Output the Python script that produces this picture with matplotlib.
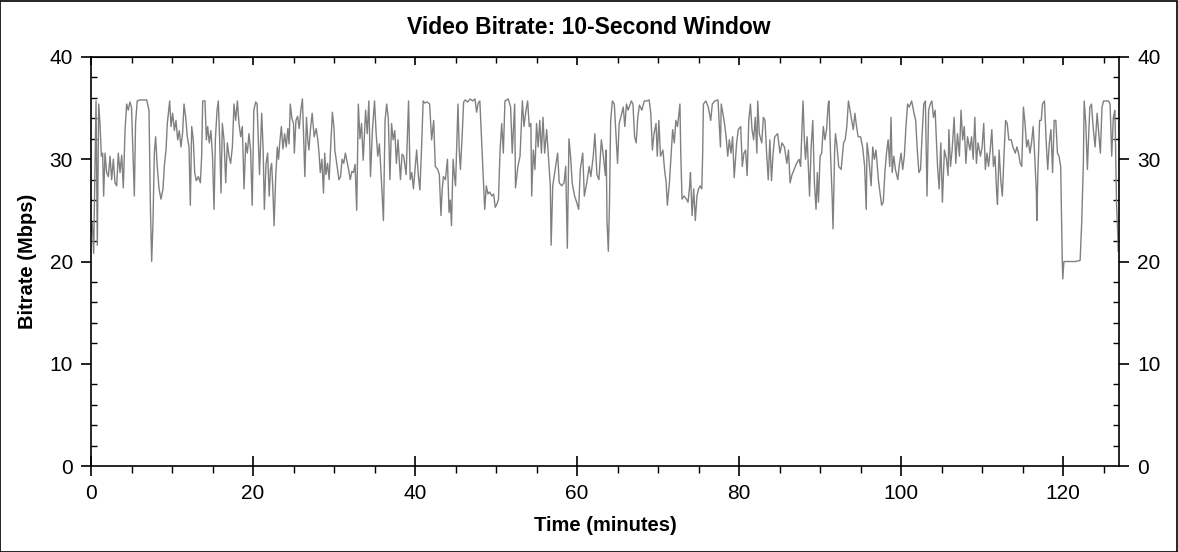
import matplotlib
matplotlib.use("Agg")
import matplotlib.pyplot as plt
from matplotlib.ticker import MultipleLocator
from matplotlib.patches import Rectangle

plt.rcParams['font.family'] = ['Liberation Sans', 'DejaVu Sans']

# time in minutes / bitrate in Mbps
t_a = [0.0, 0.16, 0.33, 0.49, 0.62, 0.78, 0.95, 1.11, 1.28, 1.44,
       1.56, 1.73, 1.93, 2.14, 2.35, 2.55, 2.76, 2.96, 3.17, 3.37,
       3.58, 3.79, 3.99, 4.2, 4.4, 4.6, 4.8, 5.0, 5.2, 5.35,
       5.5, 5.7, 6.05, 6.46, 6.87, 7.16, 7.33, 7.49, 7.65, 7.82,
       7.98, 8.15, 8.4, 8.64, 8.89, 9.05, 9.26, 9.42, 9.59, 9.71,
       9.88, 10.08, 10.29, 10.49, 10.7, 10.9, 11.1, 11.3, 11.48, 11.69,
       11.89, 12.1, 12.26, 12.43, 12.63, 12.8, 13.0, 13.25, 13.5, 13.66,
       13.79, 14.07, 14.24, 14.4, 14.6, 14.8, 15.0, 15.19, 15.35, 15.56,
       15.72, 15.88, 16.05, 16.21, 16.42, 16.63, 16.83, 17.04, 17.24, 17.45,
       17.65, 17.86, 18.07, 18.27, 18.48, 18.68, 18.89, 19.1, 19.3, 19.5,
       19.7, 19.9, 20.1, 20.33, 20.5]
v_a = [22.9, 23.8, 20.8, 28.7, 35.7, 21.6, 35.4, 33.5, 30.3, 30.6,
       26.4, 30.6, 28.7, 28.3, 30.3, 28.0, 30.0, 27.7, 27.4, 30.6,
       28.7, 30.4, 27.2, 32.8, 35.4, 34.8, 35.6, 35.1, 30.0, 26.4,
       33.5, 35.7, 35.8, 35.8, 35.8, 34.8, 25.5, 20.0, 23.8, 30.6,
       32.2, 29.6, 27.1, 26.1, 27.1, 29.3, 30.9, 33.5, 34.8, 35.7,
       33.2, 34.5, 32.8, 33.8, 31.9, 32.8, 31.2, 32.5, 35.4, 34.1,
       32.2, 31.2, 25.5, 33.2, 31.9, 28.7, 27.9, 28.3, 27.7, 30.3,
       35.7, 35.7, 31.9, 33.2, 31.6, 32.8, 30.3, 25.1, 31.9, 34.8,
       35.7, 31.9, 26.7, 33.5, 31.9, 27.7, 31.6, 30.3, 29.6, 31.2,
       35.4, 33.8, 35.7, 33.5, 32.2, 33.2, 27.1, 31.6, 30.6, 32.5,
       30.9, 25.5, 34.8, 35.6, 35.4]

t_b = [20.8, 21.07, 21.25, 21.4, 21.6, 21.8, 22.0, 22.15, 22.3, 22.45,
       22.6, 22.8, 23.0, 23.15, 23.3, 23.5, 23.7, 23.9, 24.1, 24.3,
       24.45, 24.6, 24.8, 25.0, 25.1, 25.3, 25.5, 25.7, 25.9, 26.1,
       26.4, 26.6, 26.75, 26.9, 27.1, 27.3, 27.55, 27.8, 28.0, 28.15,
       28.3, 28.5, 28.7, 28.85, 29.0, 29.2, 29.4, 29.6, 29.8, 30.0,
       30.1, 30.35, 30.6, 30.8, 31.0, 31.2, 31.4, 31.6, 31.8, 32.0,
       32.2, 32.4, 32.6, 32.8, 33.0, 33.2, 33.4, 33.6, 33.9, 34.1,
       34.3, 34.5, 34.75, 35.0, 35.2, 35.4, 35.6, 35.8, 36.1, 36.3,
       36.5, 36.7, 36.9, 37.1, 37.3, 37.5, 37.7, 37.9, 38.2, 38.4,
       38.6, 38.9, 39.2, 39.4, 39.6, 39.8, 40.0, 40.2, 40.4, 40.6,
       40.8, 41.0]
v_b = [28.5, 34.5, 31.0, 25.1, 29.5, 30.6, 26.4, 29.0, 29.6, 27.0,
       23.5, 28.3, 31.2, 30.0, 31.6, 33.2, 31.0, 32.5, 31.2, 33.0,
       31.5, 35.4, 34.0, 33.5, 30.6, 33.8, 34.2, 33.0, 34.8, 35.9,
       28.3, 34.1, 32.0, 30.9, 33.0, 34.5, 32.2, 33.0, 31.9, 30.6,
       28.7, 30.0, 26.7, 30.6, 28.5, 29.6, 28.0, 31.5, 34.6, 33.0,
       30.9, 29.5, 28.0, 28.3, 30.0, 29.6, 30.6, 29.8, 29.0, 28.0,
       28.8, 28.7, 29.5, 25.0, 35.4, 32.0, 33.5, 29.9, 34.8, 32.5,
       35.7, 28.3, 33.0, 35.7, 32.5, 30.3, 31.5, 28.7, 24.0, 33.8,
       35.4, 34.0, 28.0, 33.5, 31.9, 32.8, 29.6, 31.9, 28.0, 30.5,
       30.3, 28.5, 35.7, 28.0, 28.7, 27.1, 29.0, 30.9, 28.5, 27.0,
       31.0, 35.7]

t_c = [41.2, 41.5, 41.8, 42.05, 42.3, 42.5, 42.8, 43.0, 43.2, 43.35,
       43.5, 43.75, 44.0, 44.2, 44.35, 44.5, 44.7, 44.85, 45.0, 45.3,
       45.45, 45.6, 45.8, 46.0, 46.2, 46.5, 46.8, 47.1, 47.4, 47.6,
       47.8, 48.0, 48.3, 48.6, 48.8, 49.0, 49.2, 49.5, 49.7, 49.9,
       50.1, 50.3, 50.5, 50.7, 50.9, 51.1, 51.5, 51.8, 52.0, 52.3,
       52.4, 52.7, 52.96, 53.25, 53.45, 53.7, 53.9, 54.1, 54.3, 54.4,
       54.6, 54.8, 55.0, 55.2, 55.4, 55.6, 55.8, 56.0, 56.25, 56.5,
       56.7, 56.8, 57.0, 57.3, 57.6, 57.8, 58.1, 58.4, 58.6, 58.8,
       59.0, 59.2, 59.4, 59.7, 59.95, 60.2, 60.4, 60.7, 60.9, 61.2,
       61.5, 61.7, 62.0]
v_c = [35.5, 35.6, 35.4, 31.9, 33.8, 29.3, 29.0, 28.5, 24.5, 27.0,
       28.3, 28.0, 30.0, 24.8, 26.0, 23.5, 30.0, 28.5, 27.4, 35.4,
       31.0, 29.0, 32.0, 35.6, 35.8, 35.6, 35.9, 35.7, 35.9, 34.6,
       35.5, 35.7, 30.3, 25.1, 27.4, 26.6, 26.8, 26.4, 26.6, 25.3,
       25.6, 26.1, 30.9, 33.5, 30.6, 35.7, 35.9, 35.1, 30.6, 35.4,
       27.2, 29.3, 30.3, 35.7, 33.2, 34.8, 35.7, 33.2, 33.5, 26.4,
       30.9, 29.0, 33.5, 31.2, 33.8, 30.6, 34.1, 30.6, 32.9, 29.9,
       27.4, 21.6, 27.4, 29.0, 30.6, 27.7, 27.4, 27.7, 29.3, 21.3,
       32.0, 30.3, 27.7, 26.4, 25.8, 25.1, 29.0, 30.6, 26.4, 27.7,
       29.3, 28.3, 30.3]

t_d = [62.2, 62.45, 62.7, 63.0, 63.25, 63.5, 63.6, 63.7, 63.86, 64.0,
       64.15, 64.36, 64.6, 64.8, 65.0, 65.2, 65.4, 65.7, 65.9, 66.1,
       66.3, 66.7, 66.9, 67.1, 67.3, 67.5, 67.7, 68.0, 68.3, 68.6,
       68.9, 69.1, 69.3, 69.5, 69.75, 69.9, 70.1, 70.3, 70.6, 70.8,
       71.0, 71.15, 71.4, 71.6, 71.8, 72.0, 72.2, 72.4, 72.7, 72.8,
       72.96, 73.2, 73.5, 73.7, 73.9, 74.0, 74.2, 74.4, 74.6, 74.8,
       75.0, 75.2, 75.4, 75.5, 75.6, 75.9, 76.2, 76.5, 76.7, 77.0,
       77.4, 77.7, 77.8, 78.0, 78.2, 78.4, 78.6, 78.8, 79.0, 79.2,
       79.4, 79.7, 79.9, 80.2, 80.4, 80.6, 80.8, 81.0, 81.2, 81.4,
       81.6, 81.8, 82.0, 82.2, 82.3, 82.5, 82.8, 83.0]
v_d = [32.5, 28.5, 28.0, 31.9, 30.3, 28.4, 30.9, 23.9, 21.0, 25.5,
       33.8, 35.7, 35.4, 32.5, 29.6, 33.5, 34.1, 35.1, 33.2, 35.4,
       34.8, 35.7, 35.4, 32.2, 31.6, 34.1, 35.3, 34.8, 35.7, 35.7,
       35.8, 34.5, 30.9, 32.5, 33.5, 30.3, 33.8, 30.3, 30.9, 29.0,
       27.7, 25.5, 27.7, 30.3, 32.9, 31.6, 33.8, 33.2, 35.4, 30.6,
       26.1, 26.4, 26.1, 25.8, 27.4, 28.7, 24.5, 27.1, 24.0, 26.4,
       27.1, 27.4, 27.1, 30.3, 35.4, 35.7, 35.1, 33.8, 35.4, 35.7,
       35.8, 31.2, 35.4, 34.5, 33.5, 32.2, 30.3, 31.9, 30.6, 32.2,
       28.2, 31.6, 32.9, 33.2, 29.3, 30.6, 30.9, 28.4, 33.8, 35.4,
       32.9, 31.9, 34.1, 30.6, 35.7, 32.5, 31.6, 34.1]

t_e = [83.2, 83.4, 83.6, 83.8, 84.0, 84.2, 84.4, 84.76, 85.05, 85.3,
       85.6, 85.9, 86.1, 86.3, 86.5, 86.8, 87.1, 87.4, 87.6, 87.8,
       87.9, 88.06, 88.2, 88.4, 88.7, 88.9, 89.1, 89.3, 89.5, 89.66,
       89.8, 90.0, 90.2, 90.4, 90.6, 90.8, 91.0, 91.1, 91.3, 91.5,
       91.6, 91.8, 91.9, 92.1, 92.3, 92.6, 92.9, 93.1, 93.3, 93.5,
       93.7, 93.9, 94.1, 94.3, 94.5, 94.7, 95.0, 95.25, 95.5, 95.7,
       95.8, 96.0, 96.3, 96.5, 96.7, 96.9, 97.2, 97.4, 97.6, 97.8,
       98.0, 98.2, 98.4, 98.6, 98.76, 98.9, 99.1, 99.3, 99.6, 99.8,
       100.0, 100.2, 100.4, 100.6, 100.8, 101.0, 101.3, 101.6, 101.8, 102.0,
       102.2, 102.4, 102.6, 102.8, 103.0, 103.2, 103.4, 103.6, 103.8, 104.0]
v_e = [33.8, 30.6, 28.0, 31.9, 27.9, 30.6, 32.2, 32.5, 30.6, 31.6,
       31.2, 29.6, 30.9, 27.7, 28.4, 29.0, 29.6, 30.0, 29.3, 33.8,
       35.7, 31.9, 30.0, 32.2, 26.4, 31.2, 33.8, 27.7, 25.1, 28.7,
       25.8, 30.3, 30.6, 33.2, 31.9, 32.9, 35.4, 35.7, 30.3, 26.1,
       23.2, 30.9, 32.5, 31.2, 29.3, 29.0, 31.6, 31.9, 33.2, 35.7,
       34.8, 33.8, 32.9, 34.5, 33.2, 32.2, 32.2, 31.2, 29.3, 25.1,
       31.6, 30.3, 27.4, 31.2, 30.0, 30.9, 28.0, 26.7, 25.5, 25.8,
       28.7, 30.6, 31.9, 29.3, 34.1, 28.7, 30.3, 29.0, 28.0, 29.6,
       30.6, 29.0, 30.3, 33.2, 35.4, 35.1, 35.7, 34.5, 33.8, 30.9,
       28.7, 29.0, 32.5, 35.4, 35.7, 26.4, 34.8, 35.4, 35.7, 34.1]

t_f = [104.2, 104.5, 104.7, 104.9, 105.1, 105.35, 105.6, 105.8, 105.9, 106.1,
       106.3, 106.55, 106.75, 106.96, 107.2, 107.4, 107.6, 107.8, 108.0, 108.2,
       108.5, 108.7, 108.9, 109.1, 109.3, 109.5, 109.8, 110.0, 110.2, 110.4,
       110.6, 110.8, 111.0, 111.2, 111.4, 111.6, 111.8, 111.9, 112.1, 112.3,
       112.5, 112.7, 112.9, 113.1, 113.3, 113.6, 113.8, 114.1, 114.3, 114.5,
       114.7, 114.9, 115.1, 115.3, 115.5, 115.7, 115.9, 116.1, 116.3, 116.5,
       116.7, 116.75, 116.9, 117.1, 117.3, 117.45, 117.7, 117.9, 118.1, 118.3,
       118.5, 118.7, 118.9, 119.1, 119.3, 119.5, 119.7, 119.8, 119.9, 119.96,
       120.1, 120.7, 121.5, 122.1, 122.3, 122.5, 122.6, 122.8, 123.0, 123.1,
       123.3, 123.5, 123.7, 123.95, 124.2, 124.4, 124.6, 124.8, 125.0, 125.3,
       125.6, 125.8, 126.0, 126.2, 126.4, 126.6, 126.75, 126.8]
v_f = [34.8, 29.3, 27.1, 31.6, 25.8, 30.9, 30.0, 28.4, 32.9, 29.3,
       30.9, 34.1, 29.6, 32.5, 30.3, 34.8, 31.9, 33.2, 29.6, 32.2,
       30.9, 32.2, 30.0, 34.1, 29.6, 31.6, 30.3, 31.2, 33.5, 29.0,
       30.6, 29.3, 30.9, 32.9, 29.3, 30.3, 26.7, 25.6, 30.9, 28.0,
       26.4, 30.3, 33.8, 33.5, 31.9, 31.9, 31.2, 30.6, 31.2, 30.6,
       29.6, 29.3, 35.1, 33.5, 31.2, 31.9, 30.6, 31.6, 33.2, 30.3,
       26.7, 24.0, 29.0, 33.8, 33.8, 35.4, 35.7, 31.9, 29.0, 31.6,
       32.9, 28.7, 33.8, 33.8, 30.6, 30.3, 29.3, 24.8, 20.0, 18.3,
       20.0, 20.0, 20.0, 20.1, 23.9, 29.6, 35.7, 33.5, 29.0, 31.2,
       35.1, 35.4, 33.2, 31.2, 34.5, 32.5, 30.6, 35.1, 35.7, 35.7,
       35.7, 35.4, 30.3, 34.1, 34.8, 25.5, 22.6, 21.0]

minutes = t_a + t_b + t_c + t_d + t_e + t_f
bitrate = v_a + v_b + v_c + v_d + v_e + v_f

fig = plt.figure(figsize=(11.78, 5.52), dpi=100)
ax = fig.add_axes([91 / 1178, 1 - 466 / 552, (1119 - 91) / 1178, (466 - 57) / 552])

ax.plot(minutes, bitrate, color='#808080', linewidth=1.0)

ax.set_xlim(0, 126.9)
ax.set_ylim(0, 40)
ax.xaxis.set_major_locator(MultipleLocator(20))
ax.xaxis.set_minor_locator(MultipleLocator(5))
ax.yaxis.set_major_locator(MultipleLocator(10))
ax.yaxis.set_minor_locator(MultipleLocator(2))

for s in ax.spines.values():
    s.set_linewidth(1.2)

ax.tick_params(axis='y', which='major', direction='out', length=7, width=1.2,
               left=True, right=True, labelleft=True, labelright=True,
               labelsize=15, pad=6)
ax.tick_params(axis='y', which='minor', direction='in', length=4, width=1,
               left=True, right=True)
ax.tick_params(axis='x', which='major', direction='inout', length=14, width=1.2,
               labelsize=15, pad=6)
ax.tick_params(axis='x', which='minor', direction='out', length=5, width=1)

top = ax.secondary_xaxis('top')
top.xaxis.set_major_locator(MultipleLocator(20))
top.xaxis.set_minor_locator(MultipleLocator(5))
top.tick_params(which='major', direction='in', length=6, width=1.2, labeltop=False)
top.tick_params(which='minor', direction='in', length=4, width=1)

# title is centred on the whole picture, not on the plot area
fig.text(0.5, 1 - 27 / 552, 'Video Bitrate: 10-Second Window', fontsize=16.5,
         fontweight='bold', ha='center', va='center')
ax.set_xlabel('Time (minutes)', fontsize=14.5, fontweight='bold', labelpad=9)
ax.set_ylabel('Bitrate (Mbps)', fontsize=14.5, fontweight='bold', labelpad=9)

fig.patches.append(Rectangle((0.0004, 0.0009), 0.9991, 0.998, transform=fig.transFigure,
                             fill=False, edgecolor='black', linewidth=1.2))

fig.savefig('out.png', dpi=100, facecolor='white')
